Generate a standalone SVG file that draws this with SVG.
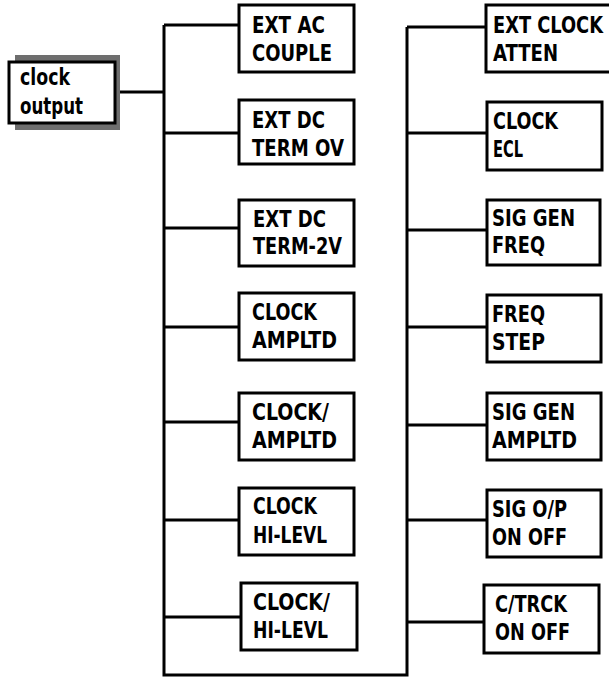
<svg xmlns="http://www.w3.org/2000/svg" width="609" height="678" viewBox="0 0 609 678">
<style>
.box{fill:#fff;stroke:#000;stroke-width:3}
.ln{fill:none;stroke:#000;stroke-width:3}
.t{font-family:"DejaVu Sans Condensed","Liberation Sans",sans-serif;font-weight:bold;font-size:23px;fill:#000}
</style>
<rect width="609" height="678" fill="#fff"/>
<g id="connectors">
<path class="ln" d="M115 92H164M164 25V675H407V27"/>
<path class="ln" d="M164 25H239M164 133H239M164 228H239M164 327H239M164 422H239M164 520H239M164 617H241"/>
<path class="ln" d="M407 27H486M407 133H487M407 230H487M407 327H487M407 425H487M407 520H487M407 622H484"/>
</g>
<g id="clock-output">
<rect x="15" y="55" width="105" height="75" fill="#6e6e6e"/>
<rect class="box" x="9" y="62" width="106" height="61"/>
<text class="t" x="20" y="85" textLength="50" lengthAdjust="spacingAndGlyphs">clock</text>
<text class="t" x="20" y="114" textLength="63" lengthAdjust="spacingAndGlyphs">output</text>
</g>
<g id="ext-ac-couple"><rect class="box" x="239" y="5" width="115" height="67"/><text class="t" x="252" y="33" textLength="73" lengthAdjust="spacingAndGlyphs">EXT AC</text><text class="t" x="252" y="61" textLength="80" lengthAdjust="spacingAndGlyphs">COUPLE</text></g>
<g id="ext-dc-term-0v"><rect class="box" x="239" y="100" width="115" height="64"/><text class="t" x="252" y="128" textLength="73" lengthAdjust="spacingAndGlyphs">EXT DC</text><text class="t" x="252" y="156" textLength="92" lengthAdjust="spacingAndGlyphs">TERM OV</text></g>
<g id="ext-dc-term-2v"><rect class="box" x="239" y="200" width="115" height="66"/><text class="t" x="253" y="227" textLength="73" lengthAdjust="spacingAndGlyphs">EXT DC</text><text class="t" x="253" y="254" textLength="89" lengthAdjust="spacingAndGlyphs">TERM-2V</text></g>
<g id="clock-ampltd"><rect class="box" x="239" y="293" width="115" height="67"/><text class="t" x="252" y="320" textLength="65" lengthAdjust="spacingAndGlyphs">CLOCK</text><text class="t" x="252" y="348" textLength="85" lengthAdjust="spacingAndGlyphs">AMPLTD</text></g>
<g id="clock-slash-ampltd"><rect class="box" x="239" y="393" width="115" height="67"/><text class="t" x="252" y="420" textLength="77" lengthAdjust="spacingAndGlyphs">CLOCK/</text><text class="t" x="252" y="448" textLength="85" lengthAdjust="spacingAndGlyphs">AMPLTD</text></g>
<g id="clock-hi-levl"><rect class="box" x="239" y="488" width="115" height="67"/><text class="t" x="253" y="514" textLength="64" lengthAdjust="spacingAndGlyphs">CLOCK</text><text class="t" x="253" y="543" textLength="74" lengthAdjust="spacingAndGlyphs">HI-LEVL</text></g>
<g id="clock-slash-hi-levl"><rect class="box" x="241" y="583" width="116" height="67"/><text class="t" x="253" y="610" textLength="77" lengthAdjust="spacingAndGlyphs">CLOCK/</text><text class="t" x="253" y="638" textLength="75" lengthAdjust="spacingAndGlyphs">HI-LEVL</text></g>
<g id="ext-clock-atten"><rect class="box" x="486" y="5" width="130" height="67"/><text class="t" x="493" y="33" textLength="110" lengthAdjust="spacingAndGlyphs">EXT CLOCK</text><text class="t" x="493" y="61" textLength="65" lengthAdjust="spacingAndGlyphs">ATTEN</text></g>
<g id="clock-ecl"><rect class="box" x="487" y="102" width="115" height="68"/><text class="t" x="493" y="129" textLength="65" lengthAdjust="spacingAndGlyphs">CLOCK</text><text class="t" x="493" y="157" textLength="30" lengthAdjust="spacingAndGlyphs">ECL</text></g>
<g id="sig-gen-freq"><rect class="box" x="487" y="200" width="113" height="65"/><text class="t" x="492" y="226" textLength="83" lengthAdjust="spacingAndGlyphs">SIG GEN</text><text class="t" x="492" y="253" textLength="53" lengthAdjust="spacingAndGlyphs">FREQ</text></g>
<g id="freq-step"><rect class="box" x="487" y="295" width="114" height="67"/><text class="t" x="492" y="322" textLength="53" lengthAdjust="spacingAndGlyphs">FREQ</text><text class="t" x="492" y="350" textLength="53" lengthAdjust="spacingAndGlyphs">STEP</text></g>
<g id="sig-gen-ampltd"><rect class="box" x="487" y="393" width="114" height="67"/><text class="t" x="492" y="420" textLength="83" lengthAdjust="spacingAndGlyphs">SIG GEN</text><text class="t" x="492" y="448" textLength="85" lengthAdjust="spacingAndGlyphs">AMPLTD</text></g>
<g id="sig-op-on-off"><rect class="box" x="487" y="490" width="114" height="67"/><text class="t" x="492" y="517" textLength="75" lengthAdjust="spacingAndGlyphs">SIG O/P</text><text class="t" x="492" y="545" textLength="75" lengthAdjust="spacingAndGlyphs">ON OFF</text></g>
<g id="c-trck-on-off"><rect class="box" x="484" y="585" width="115" height="68"/><text class="t" x="495" y="612" textLength="72" lengthAdjust="spacingAndGlyphs">C/TRCK</text><text class="t" x="495" y="640" textLength="75" lengthAdjust="spacingAndGlyphs">ON OFF</text></g>
</svg>
